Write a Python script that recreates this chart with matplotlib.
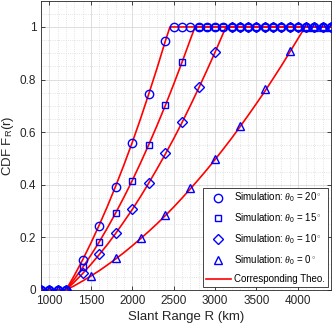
import matplotlib
matplotlib.use("Agg")
import matplotlib.pyplot as plt
from matplotlib.ticker import MultipleLocator, FixedLocator
from matplotlib.lines import Line2D

# ---- simulation points ----
zero_r = [900, 1000, 1100, 1200]

sim20_r = [1400, 1600, 1800, 2000, 2200, 2400] + list(range(2500, 4401, 100))
sim20_v = [0.114, 0.245, 0.393, 0.560, 0.745, 0.947] + [1.0] * 20

sim15_r = [1400, 1600, 1800, 2000, 2200, 2400, 2600] + list(range(2800, 4401, 100))
sim15_v = [0.087, 0.184, 0.294, 0.416, 0.551, 0.703, 0.866] + [1.0] * 17

sim10_r = [1400, 1600, 1800, 2000, 2200, 2400, 2600, 2800, 3000] + list(range(3200, 4401, 100))
sim10_v = [0.063, 0.137, 0.218, 0.307, 0.408, 0.520, 0.640, 0.770, 0.906] + [1.0] * 13

sim0_r = [1500, 1800, 2100, 2400, 2700, 3000, 3300, 3600, 3900] + list(range(4100, 4401, 100))
sim0_v = [0.053, 0.123, 0.196, 0.285, 0.387, 0.497, 0.624, 0.763, 0.910] + [1.0] * 4

# ---- theory curves ----
th20_r = [900, 1200, 1300, 1400, 1500, 1600, 1700, 1800, 1900, 2000, 2100, 2200, 2300, 2400, 2455, 4400]
th20_v = [0, 0, 0.055, 0.114, 0.178, 0.246, 0.318, 0.395, 0.476, 0.561, 0.651, 0.746, 0.844, 0.947, 1.0, 1.0]

th15_r = [900, 1200, 1300, 1400, 1500, 1600, 1700, 1800, 1900, 2000, 2100, 2200, 2300, 2400, 2500, 2600, 2700, 2758, 4400]
th15_v = [0, 0, 0.041, 0.085, 0.132, 0.182, 0.236, 0.293, 0.353, 0.416, 0.483, 0.553, 0.626, 0.702, 0.782, 0.865, 0.951, 1.0, 1.0]

th10_r = [900, 1200, 1300, 1400, 1500, 1600, 1700, 1800, 1900, 2000, 2100, 2200, 2300, 2400, 2500, 2600, 2700, 2800, 2900, 3000, 3100, 3131, 4400]
th10_v = [0, 0, 0.030, 0.062, 0.097, 0.134, 0.173, 0.215, 0.260, 0.306, 0.355, 0.407, 0.461, 0.517, 0.575, 0.636, 0.700, 0.766, 0.834, 0.904, 0.977, 1.0, 1.0]

th0_r = [900, 1200, 1300, 1400, 1500, 1600, 1700, 1800, 1900, 2000, 2100, 2200, 2300, 2400, 2500, 2600, 2700, 2800, 2900, 3000, 3100, 3200, 3300, 3400, 3500, 3600, 3700, 3800, 3900, 4000, 4088, 4400]
th0_v = [0, 0, 0.016, 0.034, 0.053, 0.073, 0.095, 0.118, 0.142, 0.168, 0.195, 0.223, 0.252, 0.283, 0.315, 0.349, 0.384, 0.420, 0.457, 0.496, 0.536, 0.577, 0.620, 0.664, 0.709, 0.755, 0.803, 0.852, 0.903, 0.955, 1.0, 1.0]

legend_labels = [r"Simulation: $\theta_0$ = 20$^\circ$",
                 r"Simulation: $\theta_0$ = 15$^\circ$",
                 r"Simulation: $\theta_0$ = 10$^\circ$",
                 r"Simulation: $\theta_0$ = 0$^\circ$",
                 "Corresponding Theo."]

x_ticks = [1000, 1500, 2000, 2500, 3000, 3500, 4000]
y_ticks = [0, 0.2, 0.4, 0.6, 0.8, 1.0]
y_ticklabels = ["0", "0.2", "0.4", "0.6", "0.8", "1"]

plt.rcParams['font.family'] = ['Liberation Sans', 'DejaVu Sans']
plt.rcParams['mathtext.fontset'] = 'custom'
plt.rcParams['mathtext.rm'] = 'Liberation Sans'
plt.rcParams['mathtext.it'] = 'Liberation Serif:italic'

fig = plt.figure(figsize=(3.32, 3.28), dpi=100)
ax = fig.add_axes([0.124, 0.116, 0.873, 0.882])

blue = (0, 0, 1)
red = (1, 0, 0)
dark = (0.15, 0.15, 0.15)
ms = 6
mew = 1.0

for r, v in [(th20_r, th20_v), (th15_r, th15_v), (th10_r, th10_v), (th0_r, th0_v)]:
    ax.plot(r, v, color=red, lw=1.2, zorder=3)

specs = [('o', sim20_r, sim20_v), ('s', sim15_r, sim15_v), ('D', sim10_r, sim10_v), ('^', sim0_r, sim0_v)]
for m, r, v in specs:
    rr = zero_r + r
    vv = [0] * len(zero_r) + v
    msize = ms - 1 if m in ('s', 'D') else ms
    ax.plot(rr, vv, linestyle='none', marker=m, markersize=msize, markerfacecolor='none',
            markeredgecolor=blue, markeredgewidth=mew, zorder=4)

ax.set_xlim(900, 4400)
ax.set_ylim(0, 1.1)
ax.xaxis.set_major_locator(FixedLocator(x_ticks))
ax.yaxis.set_major_locator(FixedLocator(y_ticks))
ax.set_yticklabels(y_ticklabels)
ax.xaxis.set_minor_locator(MultipleLocator(100))
ax.yaxis.set_minor_locator(MultipleLocator(0.05))

ax.grid(which='major', color=(0.85, 0.85, 0.85), linestyle='-', linewidth=0.6, zorder=0)
ax.grid(which='minor', color=(0.85, 0.85, 0.85), linestyle=':', linewidth=0.6, zorder=0)
ax.set_axisbelow(True)

ax.tick_params(which='both', direction='in', top=True, right=True, labelsize=8.5, colors=dark)
ax.tick_params(which='major', length=3, width=0.6)
ax.tick_params(which='minor', length=0)
for s in ax.spines.values():
    s.set_color(dark)
    s.set_linewidth(0.6)

ax.set_xlabel("Slant Range R (km)", fontsize=9.5, color=dark, labelpad=3)
ax.set_ylabel(r"CDF F$_\mathrm{R}$(r)", fontsize=9.5, color=dark, labelpad=3)

handles = [Line2D([], [], linestyle='none', marker=m, markersize=(ms - 1 if m in ('s', 'D') else ms),
                  markerfacecolor='none', markeredgecolor=blue, markeredgewidth=mew)
           for m in ['o', 's', 'D', '^']]
handles.append(Line2D([], [], color=red, lw=1.2))
leg = ax.legend(handles, legend_labels, loc='lower right', fontsize=7, frameon=True, fancybox=False,
                edgecolor=dark, framealpha=1, borderpad=0.3, labelspacing=0.75,
                handlelength=2.6, handletextpad=0.35, borderaxespad=0.3)
leg.get_frame().set_linewidth(0.6)

fig.savefig("out.png", dpi=100)
